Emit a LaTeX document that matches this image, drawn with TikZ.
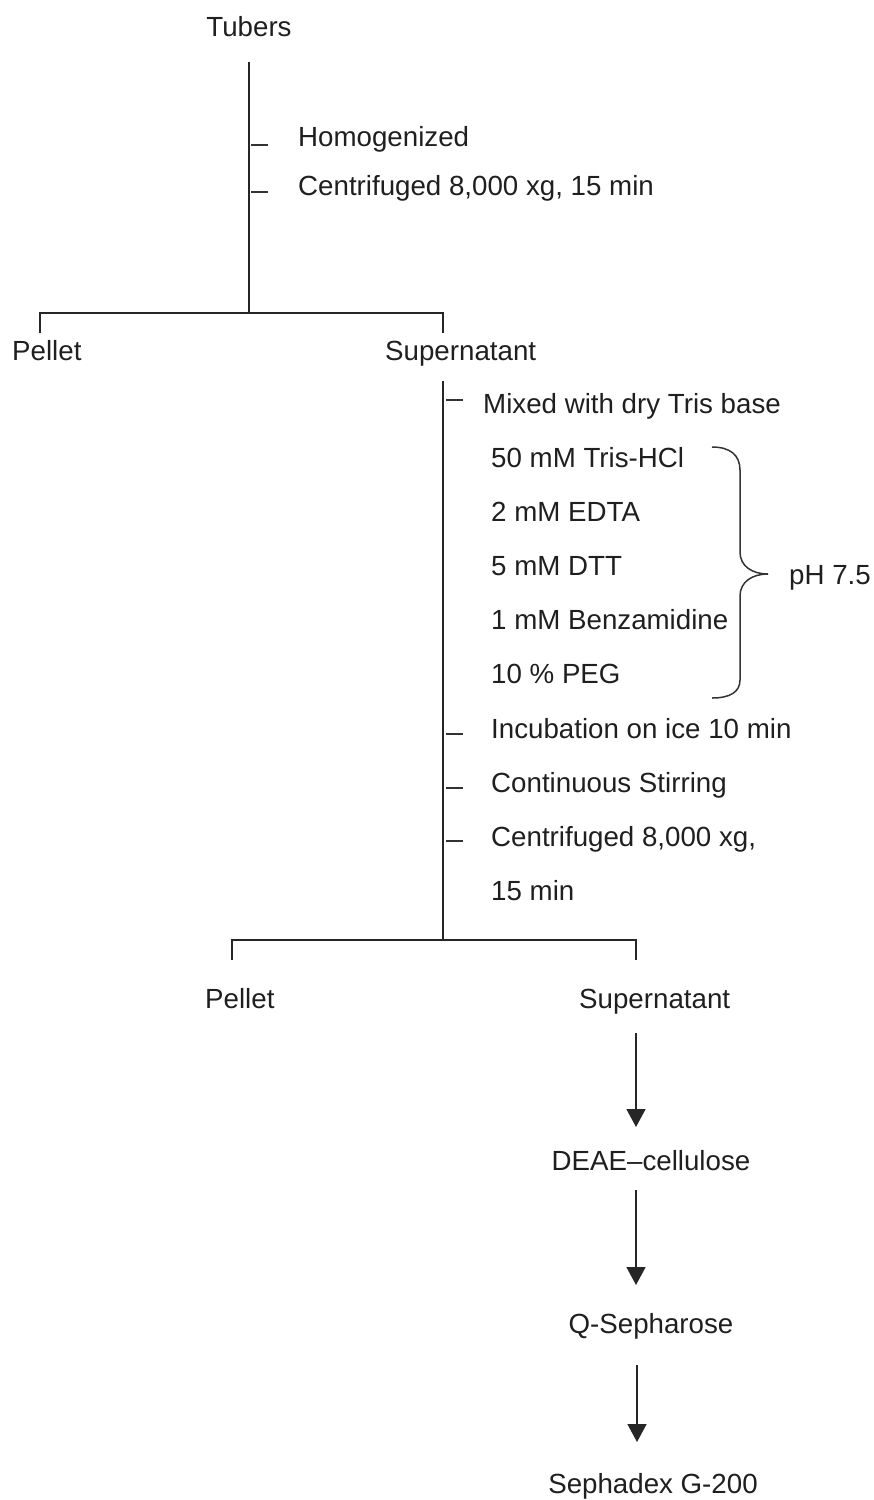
\documentclass[tikz,border=0pt]{standalone}
\usepackage{fontspec}
\setmainfont{Liberation Sans}
\usetikzlibrary{arrows.meta}
\begin{document}
\begin{tikzpicture}[x=1pt,y=-1pt,
  lbl/.style={font=\fontsize{27.7}{33}\selectfont, inner sep=0pt, anchor=base west, text=black!88},
  ctr/.style={lbl, anchor=base},
  ln/.style={line width=1.6pt, black!85},
  tick/.style={line width=1.4pt, black!80},
  arr/.style={ln, -{Triangle[width=19pt,length=18pt]}},
  brc/.style={line width=1.5pt, black!80},
]
\useasboundingbox (0,0) rectangle (874,1500);

% ---- top section
\node[ctr] (tubers) at (249,36) {Tubers};
\coordinate (v1top) at (249,62);
\coordinate (v1bot) at (249,313);
\draw[ln] (v1top) -- (v1bot);
\coordinate (t1a) at (251,145); \coordinate (t1b) at (268,145);
\coordinate (t2a) at (251,192); \coordinate (t2b) at (268,192);
\draw[tick] (t1a) -- (t1b);
\draw[tick] (t2a) -- (t2b);
\node[lbl] (homog) at (298,146) {Homogenized};
\node[lbl] (cent1) at (298,195) {Centrifuged 8,000 xg, 15 min};

\coordinate (h1l) at (40,313); \coordinate (h1r) at (443,313);
\coordinate (d1l) at (40,333); \coordinate (d1r) at (443,333);
\draw[ln] (d1l) -- (h1l) -- (h1r) -- (d1r);
\node[lbl] (pellet1) at (12,360) {Pellet};
\node[lbl] (super1) at (385,360) {Supernatant};

% ---- middle section
\coordinate (v2top) at (443,381);
\coordinate (v2bot) at (443,940);
\draw[ln] (v2top) -- (v2bot);
\foreach \y/\n in {400/a,734/b,788/c,841/d}{
  \coordinate (k\n1) at (446,\y); \coordinate (k\n2) at (463,\y);
  \draw[tick] (k\n1) -- (k\n2);
}
\node[lbl] (mixed) at (483,413) {Mixed with dry Tris base};
\node[lbl] (tris) at (491,467) {50 mM Tris-HCl};
\node[lbl] (edta) at (491,521) {2 mM EDTA};
\node[lbl] (dtt) at (491,575) {5 mM DTT};
\node[lbl] (benz) at (491,629) {1 mM Benzamidine};
\node[lbl] (peg) at (491,683) {10 \% PEG};
\node[lbl] (incub) at (491,738) {Incubation on ice 10 min};
\node[lbl] (stir) at (491,792) {Continuous Stirring};
\node[lbl] (cent2) at (491,846) {Centrifuged 8,000 xg,};
\node[lbl] (min2) at (491,900) {15 min};

% brace
\draw[brc] (712,447) .. controls (730,447) and (740,455) .. (740,470)
  -- (740,552) .. controls (740,566) and (752,574) .. (768,574);
\draw[brc] (768,574) .. controls (752,574) and (740,582) .. (740,596)
  -- (740,680) .. controls (740,692) and (730,698) .. (712,698);
\node[lbl] (ph) at (789,584) {pH 7.5};

\coordinate (h2l) at (232,940); \coordinate (h2r) at (636,940);
\coordinate (d2l) at (232,960); \coordinate (d2r) at (636,960);
\draw[ln] (d2l) -- (h2l) -- (h2r) -- (d2r);
\node[lbl] (pellet2) at (205,1008) {Pellet};
\node[lbl] (super2) at (579,1008) {Supernatant};

% ---- column steps
\node[ctr] (deae) at (651,1170) {DEAE–cellulose};
\node[ctr] (qseph) at (651,1333) {Q-Sepharose};
\node[ctr] (sephadex) at (653,1493) {Sephadex G-200};

\coordinate (a1s) at (636,1033); \coordinate (a1e) at (636,1127);
\coordinate (a2s) at (636,1190); \coordinate (a2e) at (636,1285);
\coordinate (a3s) at (637,1365); \coordinate (a3e) at (637,1442);
\draw[arr] (a1s) -- (a1e);
\draw[arr] (a2s) -- (a2e);
\draw[arr] (a3s) -- (a3e);
\end{tikzpicture}
\end{document}
